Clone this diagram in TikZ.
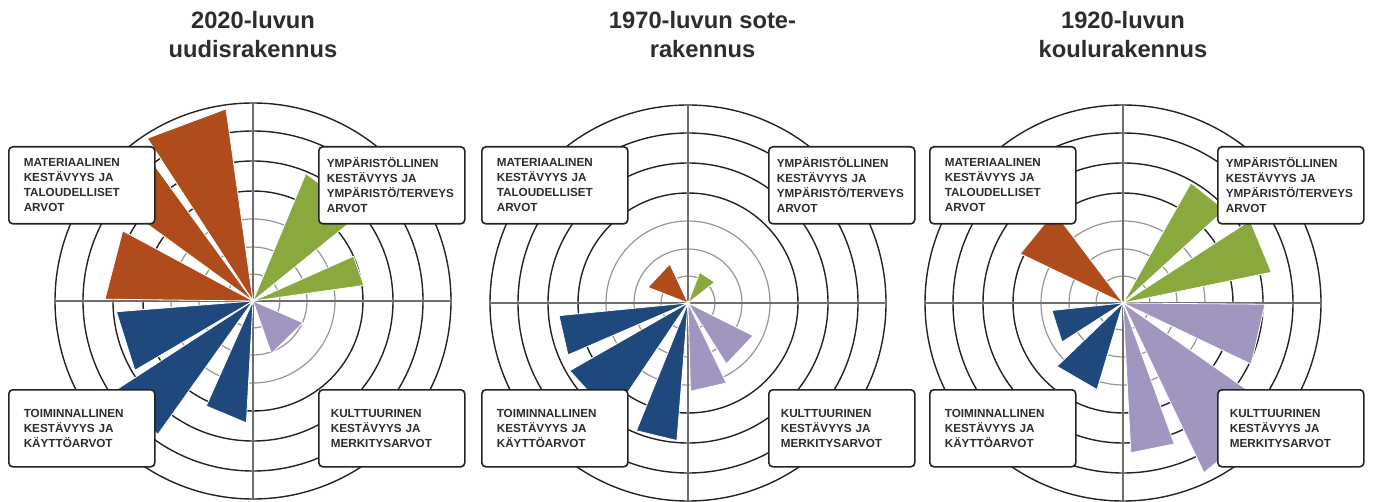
\documentclass[tikz,border=0pt]{standalone}
\usepackage{fontspec}
\setmainfont{Liberation Sans}

\definecolor{rost}{RGB}{176,76,27}
\definecolor{oliv}{RGB}{137,168,61}
\definecolor{marine}{RGB}{31,72,124}
\definecolor{flieder}{RGB}{160,150,192}
\definecolor{ringdunkel}{RGB}{35,35,35}
\definecolor{ringhell}{RGB}{150,150,150}
\definecolor{achse}{RGB}{110,110,110}
\definecolor{schrift}{RGB}{45,45,48}

\tikzset{
  ringA/.style={draw=ringdunkel, line width=1.4pt},
  ringB/.style={draw=ringhell, line width=1.2pt},
  achsen/.style={draw=achse, line width=1.2pt},
  sektor/.style={draw=white, line width=0.8pt},
  kasten/.style={draw=ringdunkel, line width=1.6pt, rounded corners=4pt, fill=white, anchor=north west,
    minimum height=77pt, inner ysep=0pt, align=left, text=schrift, font=\fontsize{11.7}{15}\selectfont\bfseries},
  kastenL/.style={kasten, inner xsep=15pt, text width=116pt},
  kastenR/.style={kasten, inner xsep=8pt, text width=130pt},
  kastenU/.style={kasten, inner xsep=12pt, text width=122pt},
  titel/.style={align=center, text=schrift, font=\fontsize{23.7}{29}\selectfont\bfseries}
}

\begin{document}
\begin{tikzpicture}[x=1pt, y=-1pt]

\useasboundingbox (0,0) rectangle (1373,502);

%Diagramm 1
\begin{scope}[shift={(253,301)}]
%Kreise
\draw[ringB] (0,0) circle (27pt) (0,0) circle (54pt) (0,0) circle (82pt);
\draw[ringA] (0,0) circle (110pt) (0,0) circle (140pt) (0,0) circle (170pt) (0,0) circle (198pt);
%Achsen
\draw[achsen] (-198,0) -- (198,0);
\draw[achsen] (0,-198) -- (0,198);
%Sektoren
\filldraw[sektor, fill=rost] (0,0) -- (-98:194) -- (-123:194) -- cycle;
\filldraw[sektor, fill=rost] (0,0) -- (-126:172) -- (-144:172) -- cycle;
\filldraw[sektor, fill=rost] (0,0) -- (-151.7:148) -- (-179.3:148) -- cycle;
\filldraw[sektor, fill=oliv] (0,0) -- (-39:138) -- (-67.5:138) -- cycle;
\filldraw[sektor, fill=oliv] (0,0) -- (-8:112) -- (-24:110) -- cycle;
\filldraw[sektor, fill=flieder] (0,0) -- (23.5:54.5) -- (70.7:55.8) -- cycle;
\filldraw[sektor, fill=marine] (0,0) -- (-184.5:137) -- (-210.4:137) -- cycle;
\filldraw[sektor, fill=marine] (0,0) -- (-213:164) -- (-234.5:164) -- cycle;
\filldraw[sektor, fill=marine] (0,0) -- (-246:115) -- (-266.9:122) -- cycle;
\end{scope}

%Diagramm 2
\begin{scope}[shift={(688,303)}]
%Kreise
\draw[ringB] (0,0) circle (27pt) (0,0) circle (54pt) (0,0) circle (82pt);
\draw[ringA] (0,0) circle (110pt) (0,0) circle (140pt) (0,0) circle (170pt) (0,0) circle (198pt);
%Achsen
\draw[achsen] (-198,0) -- (198,0);
\draw[achsen] (0,-198) -- (0,198);
%Sektoren
\filldraw[sektor, fill=rost] (0,0) -- (-115:43) -- (-158.6:43) -- cycle;
\filldraw[sektor, fill=oliv] (0,0) -- (-37.8:33.8) -- (-69:32.8) -- cycle;
\filldraw[sektor, fill=marine] (0,0) -- (-185.6:129.6) -- (-203.4:130.8) -- cycle;
\filldraw[sektor, fill=marine] (0,0) -- (-209.8:136.3) -- (-236:137) -- cycle;
\filldraw[sektor, fill=marine] (0,0) -- (-248:137.7) -- (-265.4:138) -- cycle;
\filldraw[sektor, fill=flieder] (0,0) -- (26.7:72.8) -- (57.8:72) -- cycle;
\filldraw[sektor, fill=flieder] (0,0) -- (64.4:88.7) -- (88.4:88.3) -- cycle;
\end{scope}

%Diagramm 3
\begin{scope}[shift={(1123,303)}]
%Kreise
\draw[ringB] (0,0) circle (27pt) (0,0) circle (54pt) (0,0) circle (82pt);
\draw[ringA] (0,0) circle (110pt) (0,0) circle (140pt) (0,0) circle (170pt) (0,0) circle (198pt);
%Achsen
\draw[achsen] (-198,0) -- (198,0);
\draw[achsen] (0,-198) -- (0,198);
%Sektoren
\filldraw[sektor, fill=rost] (0,0) -- (-127:114) -- (-154.4:114) -- cycle;
\filldraw[sektor, fill=oliv] (0,0) -- (-42.5:138) -- (-60.5:138) -- cycle;
\filldraw[sektor, fill=oliv] (0,0) -- (-11.7:151.5) -- (-33:151.5) -- cycle;
\filldraw[sektor, fill=flieder] (0,0) -- (0.5:142) -- (25.5:142) -- cycle;
\filldraw[sektor, fill=flieder] (0,0) -- (35:190) -- (64.5:188) -- cycle;
\filldraw[sektor, fill=flieder] (0,0) -- (70:150) -- (87:150) -- cycle;
\filldraw[sektor, fill=marine] (0,0) -- (-186:71.4) -- (-212.6:72.4) -- cycle;
\filldraw[sektor, fill=marine] (0,0) -- (-223.8:91.5) -- (-253.3:90.4) -- cycle;
\end{scope}

%Kaesten
\node[kastenL] (mat1) at (8,146) {MATERIAALINEN\\KESTÄVYYS JA\\TALOUDELLISET\\ARVOT};
\node[kastenR] (ymp1) at (318,146) {YMPÄRISTÖLLINEN\\KESTÄVYYS JA\\YMPÄRISTÖ/TERVEYS\\ARVOT};
\node[kastenL] (toi1) at (8,389) {TOIMINNALLINEN\\KESTÄVYYS JA\\KÄYTTÖARVOT};
\node[kastenU] (kul1) at (318,389) {KULTTUURINEN\\KESTÄVYYS JA\\MERKITYSARVOT};

\node[kastenL] (mat2) at (481,146) {MATERIAALINEN\\KESTÄVYYS JA\\TALOUDELLISET\\ARVOT};
\node[kastenR] (ymp2) at (768,146) {YMPÄRISTÖLLINEN\\KESTÄVYYS JA\\YMPÄRISTÖ/TERVEYS\\ARVOT};
\node[kastenL] (toi2) at (481,389) {TOIMINNALLINEN\\KESTÄVYYS JA\\KÄYTTÖARVOT};
\node[kastenU] (kul2) at (768,389) {KULTTUURINEN\\KESTÄVYYS JA\\MERKITYSARVOT};

\node[kastenL] (mat3) at (929,146) {MATERIAALINEN\\KESTÄVYYS JA\\TALOUDELLISET\\ARVOT};
\node[kastenR] (ymp3) at (1217,146) {YMPÄRISTÖLLINEN\\KESTÄVYYS JA\\YMPÄRISTÖ/TERVEYS\\ARVOT};
\node[kastenL] (toi3) at (929,389) {TOIMINNALLINEN\\KESTÄVYYS JA\\KÄYTTÖARVOT};
\node[kastenU] (kul3) at (1217,389) {KULTTUURINEN\\KESTÄVYYS JA\\MERKITYSARVOT};

%Titel
\node[titel] (titel1) at (253,34.5) {2020-luvun\\uudisrakennus};
\node[titel] (titel2) at (702.5,34.5) {1970-luvun sote-\\rakennus};
\node[titel] (titel3) at (1123,34.5) {1920-luvun\\koulurakennus};

\end{tikzpicture}
\end{document}
